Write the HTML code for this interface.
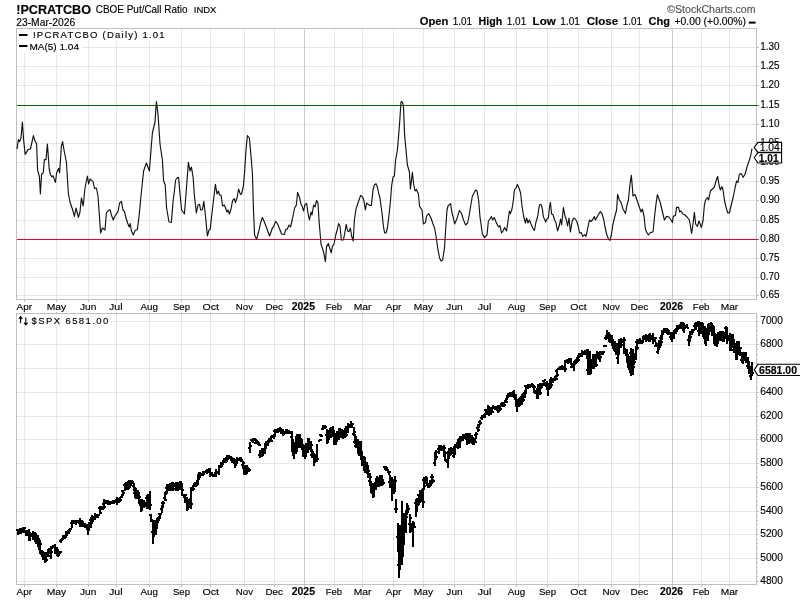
<!DOCTYPE html>
<html><head><meta charset="utf-8"><title>chart</title>
<style>html,body{margin:0;padding:0;background:#fff;width:800px;height:600px;overflow:hidden}body{font-family:"Liberation Sans",sans-serif}</style></head>
<body>
<svg width="800" height="600" viewBox="0 0 800 600" style="position:absolute;left:0;top:0" font-family="Liberation Sans, sans-serif">
<rect width="800" height="600" fill="#fff"/>
<path d="M24.5 28.5V299.5M56.5 28.5V299.5M88.5 28.5V299.5M116.5 28.5V299.5M149.5 28.5V299.5M181.5 28.5V299.5M210.5 28.5V299.5M244.5 28.5V299.5M274.5 28.5V299.5M334.5 28.5V299.5M362.5 28.5V299.5M393.5 28.5V299.5M423.5 28.5V299.5M454.5 28.5V299.5M484.5 28.5V299.5M516.5 28.5V299.5M547.5 28.5V299.5M578.5 28.5V299.5M611.5 28.5V299.5M639.5 28.5V299.5M701.5 28.5V299.5M729.5 28.5V299.5M16.5 47.5H756.5M16.5 66.5H756.5M16.5 85.5H756.5M16.5 105.5H756.5M16.5 124.5H756.5M16.5 143.5H756.5M16.5 162.5H756.5M16.5 181.5H756.5M16.5 200.5H756.5M16.5 220.5H756.5M16.5 239.5H756.5M16.5 258.5H756.5M16.5 277.5H756.5M16.5 295.5H756.5" stroke="#000" stroke-opacity="0.095" stroke-width="1" fill="none"/>
<path d="M304.5 28.5V299.5M672.5 28.5V299.5" stroke="#000" stroke-opacity="0.2" stroke-width="1" fill="none"/>
<rect x="16.5" y="28.5" width="740.0" height="271.0" fill="none" stroke="#c0c0c0" stroke-width="1"/>
<path d="M757.0 47.5h2M757.0 66.5h2M757.0 85.5h2M757.0 105.5h2M757.0 124.5h2M757.0 143.5h2M757.0 162.5h2M757.0 181.5h2M757.0 200.5h2M757.0 220.5h2M757.0 239.5h2M757.0 258.5h2M757.0 277.5h2M757.0 295.5h2M24.5 300.0v2M24.5 312.0v1.5M56.5 300.0v2M56.5 312.0v1.5M88.5 300.0v2M88.5 312.0v1.5M116.5 300.0v2M116.5 312.0v1.5M149.5 300.0v2M149.5 312.0v1.5M181.5 300.0v2M181.5 312.0v1.5M210.5 300.0v2M210.5 312.0v1.5M244.5 300.0v2M244.5 312.0v1.5M274.5 300.0v2M274.5 312.0v1.5M304.5 300.0v2M304.5 312.0v1.5M334.5 300.0v2M334.5 312.0v1.5M362.5 300.0v2M362.5 312.0v1.5M393.5 300.0v2M393.5 312.0v1.5M423.5 300.0v2M423.5 312.0v1.5M454.5 300.0v2M454.5 312.0v1.5M484.5 300.0v2M484.5 312.0v1.5M516.5 300.0v2M516.5 312.0v1.5M547.5 300.0v2M547.5 312.0v1.5M578.5 300.0v2M578.5 312.0v1.5M611.5 300.0v2M611.5 312.0v1.5M639.5 300.0v2M639.5 312.0v1.5M672.5 300.0v2M672.5 312.0v1.5M701.5 300.0v2M701.5 312.0v1.5M729.5 300.0v2M729.5 312.0v1.5" stroke="#c0c0c0" stroke-width="1" fill="none"/>
<path d="M24.5 313.5V584.5M56.5 313.5V584.5M88.5 313.5V584.5M116.5 313.5V584.5M149.5 313.5V584.5M181.5 313.5V584.5M210.5 313.5V584.5M244.5 313.5V584.5M274.5 313.5V584.5M334.5 313.5V584.5M362.5 313.5V584.5M393.5 313.5V584.5M423.5 313.5V584.5M454.5 313.5V584.5M484.5 313.5V584.5M516.5 313.5V584.5M547.5 313.5V584.5M578.5 313.5V584.5M611.5 313.5V584.5M639.5 313.5V584.5M701.5 313.5V584.5M729.5 313.5V584.5M16.5 321.5H756.5M16.5 344.5H756.5M16.5 368.5H756.5M16.5 392.5H756.5M16.5 416.5H756.5M16.5 439.5H756.5M16.5 463.5H756.5M16.5 487.5H756.5M16.5 511.5H756.5M16.5 534.5H756.5M16.5 558.5H756.5M16.5 581.5H756.5" stroke="#000" stroke-opacity="0.095" stroke-width="1" fill="none"/>
<path d="M304.5 313.5V584.5M672.5 313.5V584.5" stroke="#000" stroke-opacity="0.2" stroke-width="1" fill="none"/>
<rect x="16.5" y="313.5" width="740.0" height="271.0" fill="none" stroke="#c0c0c0" stroke-width="1"/>
<path d="M757.0 576.5h1M757.0 572.5h1M757.0 567.5h1M757.0 562.5h1M757.0 553.5h1M757.0 548.5h1M757.0 543.5h1M757.0 539.5h1M757.0 529.5h1M757.0 524.5h1M757.0 520.5h1M757.0 515.5h1M757.0 505.5h1M757.0 501.5h1M757.0 496.5h1M757.0 491.5h1M757.0 482.5h1M757.0 477.5h1M757.0 472.5h1M757.0 468.5h1M757.0 458.5h1M757.0 453.5h1M757.0 449.5h1M757.0 444.5h1M757.0 434.5h1M757.0 430.5h1M757.0 425.5h1M757.0 420.5h1M757.0 411.5h1M757.0 406.5h1M757.0 401.5h1M757.0 397.5h1M757.0 387.5h1M757.0 382.5h1M757.0 378.5h1M757.0 373.5h1M757.0 363.5h1M757.0 359.5h1M757.0 354.5h1M757.0 349.5h1M757.0 340.5h1M757.0 335.5h1M757.0 330.5h1M757.0 326.5h1M757.0 316.5h1M757.0 321.5h2M757.0 344.5h2M757.0 368.5h2M757.0 392.5h2M757.0 416.5h2M757.0 439.5h2M757.0 463.5h2M757.0 487.5h2M757.0 511.5h2M757.0 534.5h2M757.0 558.5h2M757.0 581.5h2M24.5 585.0v2M24.5 597.0v1.5M56.5 585.0v2M56.5 597.0v1.5M88.5 585.0v2M88.5 597.0v1.5M116.5 585.0v2M116.5 597.0v1.5M149.5 585.0v2M149.5 597.0v1.5M181.5 585.0v2M181.5 597.0v1.5M210.5 585.0v2M210.5 597.0v1.5M244.5 585.0v2M244.5 597.0v1.5M274.5 585.0v2M274.5 597.0v1.5M304.5 585.0v2M304.5 597.0v1.5M334.5 585.0v2M334.5 597.0v1.5M362.5 585.0v2M362.5 597.0v1.5M393.5 585.0v2M393.5 597.0v1.5M423.5 585.0v2M423.5 597.0v1.5M454.5 585.0v2M454.5 597.0v1.5M484.5 585.0v2M484.5 597.0v1.5M516.5 585.0v2M516.5 597.0v1.5M547.5 585.0v2M547.5 597.0v1.5M578.5 585.0v2M578.5 597.0v1.5M611.5 585.0v2M611.5 597.0v1.5M639.5 585.0v2M639.5 597.0v1.5M672.5 585.0v2M672.5 597.0v1.5M701.5 585.0v2M701.5 597.0v1.5M729.5 585.0v2M729.5 597.0v1.5" stroke="#c0c0c0" stroke-width="1" fill="none"/>
<path d="M17.0 105.5H758.5" stroke="#006400" stroke-width="1"/>
<path d="M17.0 239.5H758.5" stroke="#da0a34" stroke-width="1"/>
<path d="M17.0 149.0 L18.4 139.6 L19.6 141.6 L21.0 138.0 L22.4 122.0 L23.6 140.0 L25.2 154.4 L28.0 149.6 L30.4 149.0 L33.4 135.6 L35.0 141.0 L36.6 143.6 L37.6 170.0 L39.4 177.0 L40.4 194.0 L41.6 174.0 L43.2 173.0 L44.4 159.6 L46.0 159.6 L47.4 144.0 L49.2 169.0 L50.6 175.0 L52.0 177.0 L53.0 175.6 L55.4 182.4 L56.6 173.0 L58.6 168.4 L59.6 173.0 L61.4 146.0 L62.6 141.6 L64.0 150.0 L66.4 162.0 L68.4 194.0 L70.0 202.0 L72.4 209.0 L74.4 216.4 L76.0 208.0 L78.4 217.4 L80.0 212.0 L81.4 198.0 L83.2 206.0 L85.0 188.0 L87.4 176.0 L88.6 184.0 L90.0 179.0 L93.0 181.6 L94.6 188.4 L96.4 188.0 L98.0 196.0 L99.4 216.0 L100.6 233.0 L102.4 228.0 L105.0 230.0 L106.4 213.0 L108.0 211.0 L110.0 209.6 L111.4 215.0 L113.2 220.0 L115.0 216.0 L118.0 211.6 L119.6 203.0 L121.4 201.4 L123.0 210.0 L124.4 211.4 L126.0 218.0 L128.0 224.0 L129.2 227.0 L130.2 223.6 L131.4 231.0 L133.4 235.0 L135.0 230.6 L137.4 229.4 L139.0 217.0 L141.0 196.0 L143.6 171.0 L146.4 163.0 L149.4 171.0 L151.0 150.0 L152.4 133.0 L155.0 122.0 L156.4 101.6 L158.0 114.0 L160.0 144.0 L162.4 160.0 L162.4 160.0 L163.6 181.0 L165.2 185.0 L166.6 208.0 L169.0 222.0 L171.4 222.4 L173.0 202.0 L174.4 191.0 L175.6 180.0 L177.6 177.4 L178.6 177.6 L180.0 194.0 L181.6 210.0 L184.4 214.0 L186.0 194.0 L188.4 162.4 L190.0 171.0 L191.4 167.0 L193.2 178.0 L194.4 196.0 L196.4 213.0 L198.0 205.0 L199.6 204.4 L200.6 210.0 L202.4 209.6 L203.8 201.4 L205.4 215.0 L207.4 236.0 L209.0 230.0 L210.2 229.4 L212.0 213.0 L214.0 196.0 L215.4 184.4 L217.0 194.0 L218.4 191.0 L219.6 195.0 L221.0 195.0 L222.6 206.0 L224.4 205.0 L227.0 212.0 L228.0 210.0 L229.4 214.0 L231.0 209.0 L232.6 200.4 L234.4 198.6 L235.4 202.6 L237.0 198.0 L238.6 189.0 L240.4 194.4 L241.6 194.0 L243.4 186.0 L244.6 172.0 L246.0 150.0 L247.4 135.6 L249.4 138.0 L251.0 156.0 L252.4 173.0 L253.4 208.0 L254.6 235.0 L256.6 239.4 L258.6 232.0 L260.6 223.0 L262.4 217.4 L264.4 222.0 L267.0 229.0 L269.6 236.0 L272.4 228.0 L273.6 227.0 L275.6 221.4 L277.6 224.0 L279.6 229.0 L281.6 234.0 L284.4 234.4 L285.6 229.6 L287.4 229.0 L289.0 225.0 L290.6 227.0 L292.4 219.0 L294.6 208.0 L296.4 205.0 L297.6 192.4 L299.4 197.0 L301.0 204.0 L302.4 207.0 L303.6 211.0 L305.0 204.4 L306.6 203.4 L308.0 213.0 L309.4 220.0 L311.0 212.0 L312.0 215.0 L313.6 205.0 L315.0 207.0 L316.6 200.4 L318.0 203.0 L319.0 220.0 L320.0 232.0 L321.0 244.0 L323.6 252.0 L325.4 261.6 L326.6 246.4 L328.4 243.6 L331.2 253.0 L332.4 246.4 L334.0 244.0 L336.0 234.0 L337.2 230.0 L338.6 223.6 L340.0 226.0 L341.4 240.0 L343.4 240.0 L344.6 234.0 L346.2 224.4 L347.6 231.0 L349.0 231.6 L350.4 228.0 L351.6 236.0 L353.2 241.0 L354.4 220.0 L356.0 209.0 L358.0 203.0 L360.6 195.4 L362.6 197.0 L364.0 201.0 L365.4 210.0 L366.6 203.0 L369.4 205.4 L371.4 205.4 L373.0 190.0 L374.4 185.0 L376.0 183.6 L377.4 187.0 L378.6 193.0 L380.0 198.0 L382.0 213.0 L383.4 226.0 L384.6 233.0 L386.0 233.0 L387.4 228.0 L389.0 215.0 L390.4 202.0 L391.6 186.0 L393.0 177.0 L394.4 176.0 L395.6 160.0 L397.4 150.0 L399.4 126.0 L401.0 102.0 L402.0 101.6 L403.4 105.0 L404.6 135.0 L407.4 165.0 L409.4 172.0 L410.4 189.0 L412.4 172.4 L413.6 184.0 L415.0 191.0 L416.4 189.4 L418.4 194.0 L419.6 206.4 L422.0 210.0 L423.4 224.0 L425.4 222.6 L426.6 216.0 L428.6 213.6 L431.0 218.0 L433.0 224.0 L434.6 228.0 L436.0 236.0 L438.0 250.0 L439.6 258.0 L441.0 261.0 L442.6 260.0 L444.4 249.0 L445.6 230.0 L447.0 210.0 L448.0 206.0 L450.6 203.6 L452.0 213.0 L453.4 218.0 L454.6 224.0 L456.6 219.6 L459.4 210.6 L461.4 213.0 L463.4 219.6 L465.6 225.0 L467.6 223.0 L469.4 214.0 L471.0 204.0 L472.4 196.0 L474.0 193.0 L475.6 190.0 L477.0 191.0 L478.6 200.0 L480.0 217.0 L481.0 224.0 L482.4 234.0 L484.4 237.6 L487.0 235.0 L488.4 221.0 L490.0 219.0 L491.4 216.6 L492.6 220.0 L494.4 217.6 L495.6 221.0 L497.4 225.0 L498.6 227.0 L500.0 225.6 L501.6 233.0 L503.0 231.0 L504.6 227.6 L506.6 231.0 L508.0 221.0 L509.4 211.0 L510.4 213.6 L512.0 209.0 L513.4 200.0 L514.4 190.0 L516.0 188.0 L517.4 184.4 L519.0 188.0 L520.6 193.0 L522.0 206.0 L523.6 216.0 L525.4 223.0 L526.6 218.0 L528.0 223.0 L529.4 220.0 L531.0 224.0 L533.0 228.6 L534.4 230.4 L536.0 222.0 L537.6 217.0 L539.4 205.0 L541.0 204.4 L542.4 209.0 L543.4 217.0 L545.0 220.0 L545.6 222.0 L547.0 219.0 L548.4 217.6 L549.4 208.0 L550.4 202.4 L551.6 214.0 L553.0 214.6 L554.6 220.0 L556.0 223.0 L557.6 231.0 L559.4 225.0 L560.6 219.0 L561.6 225.0 L563.4 207.6 L565.0 216.0 L566.4 220.0 L567.6 226.0 L569.0 218.0 L570.4 232.0 L572.0 222.0 L573.6 218.0 L575.6 219.4 L577.0 222.0 L578.4 227.0 L579.6 233.0 L581.4 232.6 L582.6 236.4 L584.6 234.6 L586.0 236.4 L587.6 229.0 L589.4 220.0 L591.0 221.6 L592.4 220.0 L594.4 216.6 L595.4 220.0 L597.4 216.6 L599.0 213.6 L600.4 211.6 L602.0 213.6 L603.6 219.0 L605.0 227.0 L606.6 234.0 L608.6 239.4 L610.0 240.4 L611.4 235.0 L612.6 226.0 L614.4 218.0 L616.6 210.0 L617.6 194.4 L619.4 200.0 L621.0 202.4 L623.0 209.0 L625.4 213.6 L627.0 205.0 L628.4 200.0 L630.0 184.0 L631.4 175.4 L633.0 196.0 L635.0 194.4 L636.6 199.0 L638.6 205.0 L640.0 209.0 L641.0 212.0 L642.4 209.0 L644.0 216.0 L645.4 229.0 L646.6 232.0 L648.4 235.0 L650.6 232.4 L653.0 232.0 L654.4 218.0 L656.0 204.0 L657.4 194.6 L659.0 199.0 L660.4 203.0 L662.0 210.0 L664.4 220.0 L666.6 216.4 L669.0 217.0 L671.0 220.0 L672.4 222.4 L673.4 216.0 L675.4 215.6 L676.6 207.4 L678.6 207.4 L679.6 212.0 L681.0 211.0 L683.0 214.0 L685.0 215.0 L687.0 217.0 L689.4 220.0 L690.6 227.0 L691.6 233.4 L693.0 224.0 L694.4 212.4 L695.6 224.0 L697.4 226.4 L699.0 221.0 L701.4 227.4 L703.0 221.0 L704.4 205.0 L705.6 200.0 L707.6 197.6 L708.6 200.0 L710.4 191.0 L712.4 189.0 L714.4 187.0 L716.0 181.0 L717.6 176.4 L719.0 185.0 L720.4 190.0 L722.0 186.6 L723.0 190.0 L724.6 201.0 L726.0 207.0 L727.6 212.6 L729.4 213.0 L731.0 206.0 L733.0 198.0 L735.0 188.0 L736.6 181.0 L738.0 182.4 L739.4 174.0 L741.4 173.6 L743.0 177.4 L745.0 174.4 L747.0 167.0 L749.4 160.0 L750.6 156.0 L752.0 148.6" stroke="#111" stroke-width="1.15" fill="none" stroke-linejoin="round"/>
<path d="M18.34 529.0V534.5M19.82 528.2V534.3M21.30 528.8V534.4M22.77 527.2V533.2M24.25 527.2V530.5M25.73 530.0V536.2M27.20 530.3V535.7M28.68 528.8V541.3M30.16 532.3V540.8M31.63 533.4V536.2M33.11 531.2V539.5M34.59 531.7V541.5M36.06 533.1V543.8M37.54 535.3V546.3M39.02 538.0V549.8M40.49 541.9V554.0M41.97 549.7V557.4M43.44 551.4V560.4M44.92 552.1V563.2M46.40 552.4V562.1M47.87 548.7V557.2M49.35 547.5V552.1M50.83 547.4V559.3M52.30 545.9V548.9M53.78 545.2V548.1M55.26 543.7V554.1M56.73 546.6V556.4M58.21 548.9V557.2M59.69 551.4V554.2M61.16 539.0V542.9M62.64 536.4V539.5M64.12 535.4V539.1M65.59 532.0V537.7M67.07 531.2V536.1M68.55 530.4V534.1M70.02 527.9V530.9M71.50 519.6V528.4M72.97 519.6V524.2M74.45 520.1V523.4M75.93 520.1V524.8M77.40 519.6V522.4M78.88 520.8V523.7M80.36 518.2V527.0M81.83 519.6V527.2M83.31 521.0V527.2M84.79 522.6V526.9M86.26 523.7V527.8M87.74 524.2V534.8M89.22 522.4V531.2M90.69 516.6V527.9M92.17 514.7V523.2M93.65 515.9V520.3M95.12 513.3V519.8M96.60 514.8V517.3M98.08 513.9V518.0M99.55 505.7V514.4M101.03 506.0V508.9M102.50 505.6V510.1M103.98 499.4V508.4M105.46 500.8V504.0M106.93 499.8V503.4M108.41 501.0V504.5M109.89 502.3V504.8M111.36 501.4V503.9M112.84 500.6V504.3M114.32 500.2V503.5M115.79 499.3V503.4M117.27 497.0V505.0M118.75 497.9V503.1M120.22 497.3V500.3M121.70 494.3V498.1M123.18 489.5V494.8M124.65 483.2V491.1M126.13 481.5V490.2M127.61 480.6V489.6M129.08 479.5V488.2M130.56 480.2V486.0M132.03 479.8V483.6M133.51 483.1V491.0M134.99 486.8V498.3M136.46 489.8V498.6M137.94 489.7V494.9M139.42 494.4V504.4M140.89 498.9V511.8M142.37 499.2V510.6M143.85 499.5V508.2M145.32 502.1V506.4M146.80 494.8V509.3M148.28 494.4V508.6M149.75 491.0V509.8M151.23 513.5V522.1M152.71 521.0V544.0M154.18 520.3V537.1M155.66 519.8V535.3M157.13 517.9V529.4M158.61 516.2V520.5M160.09 512.5V516.7M161.56 505.1V513.0M163.04 500.6V505.6M164.52 492.0V501.1M165.99 490.6V495.1M167.47 484.4V492.7M168.95 483.9V491.0M170.42 482.9V491.0M171.90 482.4V491.0M173.38 481.9V490.6M174.85 483.1V487.1M176.33 482.4V490.5M177.81 482.3V490.6M179.28 481.5V489.8M180.76 480.6V489.9M182.24 483.0V496.0M183.71 494.2V497.9M185.19 493.7V502.6M186.66 497.2V510.5M188.14 498.5V510.2M189.62 497.6V507.7M191.09 486.5V509.3M192.57 486.5V490.8M194.05 482.7V487.0M195.52 482.2V486.7M197.00 482.0V486.1M198.48 474.2V482.5M199.95 471.5V477.9M201.43 473.2V475.7M202.91 471.1V476.1M204.38 471.1V473.6M205.86 470.3V472.8M207.34 469.2V473.8M208.81 467.8V473.1M210.29 468.4V477.0M211.77 472.1V476.0M213.24 474.2V476.7M214.72 474.2V477.3M216.19 469.1V476.6M217.67 471.6V474.1M219.15 464.9V474.8M220.62 463.5V468.1M222.10 461.6V467.3M223.58 459.1V463.4M225.05 458.1V463.0M226.53 455.0V462.1M228.01 457.0V459.5M229.48 454.9V458.5M230.96 455.8V459.4M232.44 456.5V462.5M233.91 458.1V462.3M235.39 458.6V468.2M236.87 457.2V464.1M238.34 457.9V461.1M239.82 457.0V461.2M241.30 458.3V462.3M242.77 461.3V469.0M244.25 464.7V475.0M245.72 465.1V474.8M247.20 464.5V474.2M248.68 467.6V472.0M250.15 441.9V452.7M251.63 439.8V442.4M253.11 438.1V443.1M254.58 438.2V440.7M256.06 438.9V444.0M257.54 440.7V443.6M259.01 443.1V446.2M260.49 449.5V457.5M261.97 448.3V457.3M263.44 448.0V456.1M264.92 444.8V454.1M266.40 441.4V449.2M267.87 440.5V445.6M269.35 438.4V442.7M270.83 437.2V442.1M272.30 435.4V438.0M273.78 433.9V438.9M275.25 429.4V435.5M276.73 429.2V433.2M278.21 427.5V431.6M279.68 427.3V432.1M281.16 428.4V434.3M282.64 429.1V436.4M284.11 431.6V434.8M285.59 428.5V434.1M287.07 428.7V433.5M288.54 431.2V434.1M290.02 430.6V433.1M291.50 431.2V452.1M292.97 438.8V455.5M294.45 441.7V458.5M295.93 436.1V454.0M297.40 434.0V452.0M298.88 433.8V447.6M300.36 434.4V444.8M301.83 438.7V450.0M303.31 444.3V456.5M304.78 445.3V459.1M306.26 442.5V455.2M307.74 437.5V453.3M309.21 437.8V449.8M310.69 440.8V452.4M312.17 448.5V458.0M313.64 452.8V465.7M315.12 454.6V462.9M316.60 444.2V462.2M319.55 438.6V441.1M321.03 434.2V436.7M322.50 426.2V430.0M323.98 425.7V428.2M325.46 424.8V429.0M326.93 429.2V444.2M328.41 430.0V440.7M329.89 429.3V438.4M331.36 427.0V437.7M332.84 425.6V436.9M334.31 431.5V445.0M335.79 432.6V444.9M337.27 430.5V441.5M338.74 428.3V439.8M340.22 427.9V438.1M341.70 428.5V437.5M343.17 429.7V438.7M344.65 429.4V438.4M346.13 425.9V437.1M347.60 423.4V432.6M349.08 425.0V427.8M350.56 421.2V425.7M352.03 422.5V427.9M353.51 426.8V435.9M354.99 433.5V443.5M356.46 436.3V448.4M357.94 439.1V453.3M359.42 440.7V456.3M360.89 440.8V460.0M362.37 450.9V466.3M363.84 455.5V470.6M365.32 456.8V472.5M366.80 462.2V474.0M368.27 465.7V478.4M369.75 472.8V486.4M371.23 480.6V492.9M372.70 482.6V497.6M374.18 482.8V497.3M375.66 478.1V490.1M377.13 475.6V486.9M378.61 477.5V487.1M380.09 475.0V485.6M381.56 474.8V486.1M383.04 479.4V483.3M384.52 466.1V469.9M385.99 465.5V470.2M387.47 466.8V471.3M388.95 470.8V475.1M390.42 474.6V488.0M422.90 487.6V493.5M424.38 476.9V488.1M425.86 475.6V484.4M427.33 477.4V485.5M428.81 483.3V487.7M430.29 480.4V486.7M431.76 474.3V483.5M433.24 478.5V482.8M434.72 451.9V465.5M436.19 449.8V459.8M437.67 450.9V453.4M439.15 445.3V454.1M440.62 445.0V450.9M442.10 445.6V449.7M443.58 445.0V456.1M445.05 450.8V460.7M446.53 459.0V463.2M448.01 450.9V467.8M449.48 447.5V458.9M450.96 446.9V455.3M452.43 448.3V454.4M453.91 446.2V457.6M455.39 444.4V454.9M456.86 441.6V445.9M458.34 438.7V449.1M459.82 437.2V447.7M461.29 435.5V440.1M462.77 435.8V440.5M464.25 434.3V438.5M465.72 432.5V440.0M467.20 432.5V444.5M468.68 433.1V443.9M470.15 433.2V442.8M471.63 434.5V443.5M473.11 436.7V445.4M474.58 438.4V443.2M476.06 431.7V438.9M477.54 425.9V432.2M479.01 423.6V428.0M480.49 419.8V425.2M481.96 415.4V420.3M483.44 414.9V418.1M484.92 413.2V417.7M486.39 408.7V414.5M487.87 405.2V414.7M489.35 405.8V415.9M490.82 406.5V414.7M492.30 407.1V412.9M493.78 405.5V408.6M495.25 407.0V409.6M496.73 406.0V411.0M498.21 404.5V413.2M499.68 405.2V410.8M501.16 403.3V406.6M502.64 402.0V406.8M504.11 401.8V406.6M505.59 399.1V402.9M507.07 395.2V399.6M508.54 392.5V396.9M510.02 391.8V396.6M511.49 392.4V396.2M512.97 391.4V396.5M514.45 389.7V398.4M515.92 393.6V406.0M517.40 398.8V411.8M518.88 398.7V407.4M520.35 397.2V405.7M521.83 394.9V404.7M523.31 392.5V402.2M524.78 389.5V398.0M526.26 384.6V393.6M527.74 383.5V389.2M529.21 383.5V386.0M530.69 384.4V387.0M532.17 383.4V385.9M533.64 385.3V390.5M535.12 390.0V394.0M536.60 387.6V399.2M538.07 383.5V398.7M539.55 383.2V394.7M541.02 384.9V389.0M542.50 383.0V385.5M543.98 379.8V383.5M545.45 382.0V385.7M546.93 381.4V390.3M548.41 382.9V395.5M549.88 380.1V388.9M551.36 376.8V386.3M552.84 377.9V383.3M554.31 377.9V380.9M555.79 375.3V380.0M557.27 369.0V377.2M558.74 367.8V370.3M560.22 365.5V369.4M561.70 365.4V369.2M563.17 366.6V370.0M564.65 361.8V372.3M566.13 359.9V363.3M567.60 358.9V363.8M569.08 357.9V362.8M570.55 358.1V365.3M572.03 362.6V368.2M573.51 361.6V371.0M574.98 360.3V365.1M576.46 359.4V363.7M577.94 355.6V362.1M579.41 353.1V358.0M580.89 353.0V357.4M582.37 350.0V356.8M583.84 351.6V354.6M585.32 349.7V353.8M586.80 349.3V358.9M588.27 349.3V374.5M589.75 351.0V374.5M591.23 358.6V373.7M592.70 353.6V369.2M594.18 354.3V369.1M595.66 354.6V366.9M597.13 351.2V359.4M598.61 352.6V358.3M600.08 350.5V362.2M601.56 352.5V355.0M603.04 351.3V353.8M604.51 344.9V347.4M605.99 335.1V340.0M607.47 330.3V338.5M608.94 332.4V342.1M610.42 334.6V343.0M611.90 335.4V345.1M613.37 340.3V348.7M614.85 341.4V351.7M616.33 342.8V354.7M617.80 345.0V363.5M619.28 338.5V353.2M620.76 337.7V348.1M622.23 339.3V342.4M623.71 337.1V353.5M625.19 348.1V354.0M626.66 349.0V363.0M628.14 354.0V367.6M629.61 355.6V372.6M631.09 348.1V376.3M632.57 348.9V375.1M634.04 352.9V365.4M635.52 346.0V359.6M637.00 340.1V349.7M638.47 338.5V344.4M639.95 338.4V343.8M641.43 340.3V343.9M642.90 337.2V343.2M644.38 335.2V340.0M645.86 333.6V341.8M647.33 335.3V341.4M648.81 334.2V342.2M650.29 332.5V341.7M651.76 335.4V338.0M653.24 332.5V343.7M654.72 337.6V342.4M656.19 341.9V347.4M657.67 343.0V353.9M659.14 339.5V348.7M660.62 335.8V345.5M662.10 330.1V339.9M663.57 328.2V333.1M665.05 328.9V331.9M666.53 327.5V332.0M668.00 329.0V334.3M669.48 332.1V334.7M670.96 332.0V340.2M672.43 332.1V341.6M673.91 329.8V338.6M675.39 329.3V333.8M676.86 325.0V331.5M678.34 324.5V329.9M679.82 325.0V328.5M681.29 322.0V329.0M682.77 322.1V330.9M684.25 322.9V333.4M685.72 324.8V328.2M687.20 325.1V328.2M688.67 335.0V346.3M690.15 330.8V342.2M691.63 329.4V334.6M693.10 329.9V332.6M694.58 324.8V330.4M696.06 322.3V327.9M697.53 320.9V326.0M699.01 321.3V336.2M700.49 321.9V334.3M701.96 322.0V334.4M703.44 322.9V336.9M704.92 326.2V343.7M706.39 328.1V346.3M707.87 323.9V341.2M709.35 322.6V334.6M710.82 322.1V330.6M712.30 323.0V335.8M713.78 325.8V343.6M715.25 332.8V346.3M716.73 333.8V346.7M718.20 332.4V342.1M719.68 331.4V341.1M721.16 331.0V341.4M722.63 331.1V342.2M724.11 332.0V342.0M725.59 325.8V338.8M727.06 326.8V343.6M728.54 334.8V340.3M730.02 333.0V350.6M731.49 333.6V350.5M732.97 334.4V348.1M734.45 338.6V353.3M735.92 343.0V359.8M737.40 341.4V359.9M738.88 341.1V352.9M740.35 346.8V355.9M741.83 351.5V363.2M743.31 352.3V363.8M744.78 351.7V360.7M746.26 351.5V362.5M747.73 356.9V368.9M749.21 362.4V373.9M750.69 366.4V380.4M752.16 361.8V376.0M392.17 477.0V500.8M393.67 479.2V494.2M395.00 475.8V491.7M396.17 499.2V512.5M397.83 523.3V551.7M399.17 528.3V577.5M400.33 525.0V570.0M401.67 500.8V565.0M403.00 513.3V556.7M404.33 513.3V545.0M405.67 511.7V533.3M407.00 503.3V515.0M408.33 505.0V513.3M409.67 514.2V533.3M411.00 523.3V530.0M413.00 520.8V546.7M414.33 521.7V528.3M415.83 499.2V516.7M417.17 498.3V511.7M418.67 494.2V505.0M420.00 490.0V503.3M421.67 489.2V501.7M423.33 489.2V507.5" stroke="#000" stroke-width="2" fill="none" shape-rendering="crispEdges"/>
<path d="M16.34 530.1h2M18.34 531.9h2M17.82 530.9h2M19.82 529.4h2M19.30 530.1h2M21.30 530.5h2M20.77 530.6h2M22.77 529.8h2M22.25 528.4h2M24.25 528.1h2M23.73 531.7h2M25.73 533.5h2M25.20 531.3h2M27.20 531.3h2M26.68 532.5h2M28.68 536.7h2M28.16 536.1h2M30.16 535.4h2M29.63 535.2h2M31.63 534.3h2M31.11 535.8h2M33.11 535.5h2M32.59 539.2h2M34.59 538.2h2M34.06 536.9h2M36.06 542.1h2M35.54 537.9h2M37.54 540.2h2M37.02 546.0h2M39.02 541.0h2M38.49 547.9h2M40.49 544.1h2M39.97 554.0h2M41.97 555.6h2M41.44 554.8h2M43.44 557.2h2M42.92 558.4h2M44.92 558.2h2M44.40 557.0h2M46.40 559.6h2M45.87 555.6h2M47.87 552.8h2M47.35 550.3h2M49.35 551.4h2M48.83 556.1h2M50.83 551.6h2M50.30 546.7h2M52.30 546.6h2M51.78 546.4h2M53.78 547.4h2M53.26 545.9h2M55.26 548.5h2M54.73 551.8h2M56.73 554.1h2M56.21 554.9h2M58.21 555.2h2M57.69 553.7h2M59.69 552.1h2M59.16 541.2h2M61.16 540.3h2M60.64 539.0h2M62.64 538.4h2M62.12 536.1h2M64.12 538.3h2M63.59 536.0h2M65.59 534.4h2M65.07 532.1h2M67.07 532.1h2M66.55 531.0h2M68.55 531.4h2M68.02 529.6h2M70.02 528.7h2M69.50 522.5h2M71.50 523.1h2M70.97 523.5h2M72.97 521.8h2M72.45 521.2h2M74.45 522.5h2M73.93 522.5h2M75.93 521.3h2M75.40 521.7h2M77.40 521.4h2M76.88 522.3h2M78.88 522.8h2M78.36 521.5h2M80.36 520.9h2M79.83 525.3h2M81.83 525.1h2M81.31 522.9h2M83.31 524.2h2M82.79 524.0h2M84.79 525.3h2M84.26 527.2h2M86.26 527.1h2M85.74 528.5h2M87.74 527.5h2M87.22 525.1h2M89.22 525.0h2M88.69 519.9h2M90.69 523.2h2M90.17 521.3h2M92.17 520.9h2M91.65 516.8h2M93.65 518.6h2M93.12 517.6h2M95.12 516.4h2M94.60 516.9h2M96.60 515.9h2M96.08 515.0h2M98.08 514.9h2M97.55 507.9h2M99.55 512.5h2M99.03 508.4h2M101.03 507.8h2M100.50 509.4h2M102.50 508.4h2M101.98 504.1h2M103.98 506.7h2M103.46 501.8h2M105.46 501.9h2M104.93 501.4h2M106.93 500.7h2M106.41 502.9h2M108.41 503.7h2M107.89 503.6h2M109.89 502.8h2M109.36 502.1h2M111.36 502.6h2M110.84 502.5h2M112.84 502.6h2M112.32 501.3h2M114.32 501.4h2M113.79 502.1h2M115.79 502.5h2M115.27 500.7h2M117.27 501.7h2M116.75 500.4h2M118.75 500.7h2M118.22 499.6h2M120.22 499.7h2M119.70 497.1h2M121.70 495.2h2M121.18 490.6h2M123.18 492.8h2M122.65 485.2h2M124.65 488.3h2M124.13 486.9h2M126.13 483.7h2M125.61 487.5h2M127.61 488.1h2M127.08 482.2h2M129.08 486.6h2M128.56 484.4h2M130.56 481.7h2M130.03 481.2h2M132.03 482.3h2M131.51 486.1h2M133.51 487.7h2M132.99 492.7h2M134.99 489.1h2M134.46 497.2h2M136.46 496.0h2M135.94 490.7h2M137.94 493.4h2M137.42 497.8h2M139.42 496.8h2M138.89 504.7h2M140.89 509.1h2M140.37 507.4h2M142.37 503.0h2M141.85 501.7h2M143.85 506.4h2M143.32 504.8h2M145.32 504.0h2M144.80 497.7h2M146.80 506.5h2M146.28 502.8h2M148.28 504.5h2M147.75 494.9h2M149.75 505.1h2M149.23 515.2h2M151.23 520.0h2M150.71 531.7h2M152.71 529.9h2M152.18 529.3h2M154.18 533.7h2M153.66 525.0h2M155.66 523.5h2M155.13 523.9h2M157.13 521.6h2M156.61 517.7h2M158.61 517.7h2M158.09 513.6h2M160.09 514.1h2M159.56 509.3h2M161.56 507.3h2M161.04 502.9h2M163.04 503.1h2M162.52 497.8h2M164.52 499.6h2M163.99 493.3h2M165.99 492.5h2M165.47 487.6h2M167.47 485.9h2M166.95 486.3h2M168.95 485.8h2M168.42 484.6h2M170.42 488.9h2M169.90 488.9h2M171.90 487.7h2M171.38 484.9h2M173.38 484.6h2M172.85 484.4h2M174.85 486.4h2M174.33 489.1h2M176.33 486.7h2M175.81 485.0h2M177.81 489.2h2M177.28 484.5h2M179.28 484.8h2M178.76 482.0h2M180.76 484.5h2M180.24 489.3h2M182.24 489.5h2M181.71 495.0h2M183.71 495.8h2M183.19 495.3h2M185.19 495.2h2M184.66 502.0h2M186.66 501.3h2M186.14 505.1h2M188.14 504.6h2M187.62 504.4h2M189.62 503.8h2M189.09 501.3h2M191.09 503.9h2M190.57 487.6h2M192.57 489.4h2M192.05 486.1h2M194.05 485.3h2M193.52 483.4h2M195.52 484.6h2M195.00 485.0h2M197.00 484.3h2M196.48 480.6h2M198.48 479.4h2M197.95 473.0h2M199.95 474.1h2M199.43 474.6h2M201.43 474.7h2M200.91 474.4h2M202.91 473.6h2M202.38 471.9h2M204.38 471.6h2M203.86 472.3h2M205.86 471.5h2M205.34 472.3h2M207.34 471.8h2M206.81 469.5h2M208.81 471.3h2M208.29 471.5h2M210.29 473.1h2M209.77 474.6h2M211.77 474.5h2M211.24 474.8h2M213.24 476.2h2M212.72 474.7h2M214.72 475.7h2M214.19 472.6h2M216.19 471.6h2M215.67 472.2h2M217.67 472.8h2M217.15 473.0h2M219.15 467.3h2M218.62 466.5h2M220.62 465.0h2M220.10 462.5h2M222.10 464.4h2M221.58 460.7h2M223.58 462.3h2M223.05 459.2h2M225.05 462.0h2M224.53 457.5h2M226.53 457.9h2M226.01 458.1h2M228.01 457.8h2M227.48 456.1h2M229.48 457.8h2M228.96 457.3h2M230.96 458.7h2M230.44 460.0h2M232.44 461.2h2M231.91 458.9h2M233.91 460.9h2M233.39 463.1h2M235.39 465.1h2M234.87 462.7h2M236.87 458.9h2M236.34 460.6h2M238.34 459.0h2M237.82 458.8h2M239.82 458.1h2M239.30 460.3h2M241.30 459.5h2M240.77 464.9h2M242.77 463.2h2M242.25 467.7h2M244.25 466.9h2M243.72 468.9h2M245.72 467.2h2M245.20 467.6h2M247.20 467.7h2M246.68 469.5h2M248.68 469.5h2M248.15 447.5h2M250.15 446.4h2M249.63 440.4h2M251.63 441.1h2M251.11 439.6h2M253.11 439.8h2M252.58 440.1h2M254.58 440.1h2M254.06 442.8h2M256.06 441.3h2M255.54 442.8h2M257.54 442.9h2M257.01 443.9h2M259.01 444.7h2M258.49 454.7h2M260.49 454.3h2M259.97 454.4h2M261.97 452.5h2M261.44 452.3h2M263.44 449.4h2M262.92 451.3h2M264.92 447.7h2M264.40 444.2h2M266.40 443.3h2M265.87 441.7h2M267.87 441.6h2M267.35 440.9h2M269.35 439.1h2M268.83 440.1h2M270.83 440.9h2M270.30 437.0h2M272.30 436.3h2M271.78 436.1h2M273.78 435.5h2M273.25 431.3h2M275.25 430.4h2M274.73 430.4h2M276.73 432.0h2M276.21 430.9h2M278.21 429.0h2M277.68 430.6h2M279.68 429.0h2M279.16 430.2h2M281.16 431.0h2M280.64 430.9h2M282.64 432.2h2M282.11 432.3h2M284.11 433.0h2M283.59 432.2h2M285.59 433.3h2M285.07 432.6h2M287.07 432.0h2M286.54 432.3h2M288.54 432.0h2M288.02 431.2h2M290.02 432.7h2M289.50 437.4h2M291.50 439.6h2M290.97 450.9h2M292.97 450.9h2M292.45 449.3h2M294.45 444.8h2M293.93 444.7h2M295.93 443.4h2M295.40 448.3h2M297.40 439.2h2M296.88 439.4h2M298.88 444.5h2M298.36 436.2h2M300.36 439.0h2M299.83 446.8h2M301.83 446.5h2M301.31 446.4h2M303.31 446.4h2M302.78 448.0h2M304.78 456.3h2M304.26 446.7h2M306.26 451.1h2M305.74 449.8h2M307.74 443.6h2M307.21 441.9h2M309.21 447.7h2M308.69 447.6h2M310.69 444.7h2M310.17 454.7h2M312.17 452.0h2M311.64 457.2h2M313.64 454.8h2M313.12 460.3h2M315.12 461.2h2M314.60 454.9h2M316.60 458.8h2M317.55 440.6h2M319.55 439.7h2M319.03 434.8h2M321.03 435.9h2M320.50 428.8h2M322.50 428.4h2M321.98 426.2h2M323.98 426.4h2M323.46 425.5h2M325.46 427.1h2M324.93 434.9h2M326.93 441.8h2M326.41 438.2h2M328.41 439.0h2M327.89 432.4h2M329.89 431.2h2M329.36 429.3h2M331.36 432.3h2M330.84 432.9h2M332.84 430.8h2M332.31 435.7h2M334.31 437.5h2M333.79 439.8h2M335.79 440.3h2M335.27 437.9h2M337.27 438.6h2M336.74 435.3h2M338.74 431.0h2M338.22 435.4h2M340.22 431.5h2M339.70 433.4h2M341.70 432.2h2M341.17 435.7h2M343.17 432.3h2M342.65 432.3h2M344.65 432.3h2M344.13 428.8h2M346.13 434.5h2M345.60 428.5h2M347.60 426.9h2M347.08 427.0h2M349.08 426.7h2M348.56 424.5h2M350.56 424.5h2M350.03 423.7h2M352.03 424.0h2M351.51 434.4h2M353.51 431.9h2M352.99 441.5h2M354.99 437.6h2M354.46 445.5h2M356.46 441.9h2M355.94 443.8h2M357.94 449.0h2M357.42 453.4h2M359.42 444.2h2M358.89 451.7h2M360.89 452.0h2M360.37 455.6h2M362.37 457.2h2M361.84 459.3h2M363.84 459.9h2M363.32 461.9h2M365.32 465.7h2M364.80 469.4h2M366.80 465.7h2M366.27 467.7h2M368.27 470.5h2M367.75 481.3h2M369.75 476.6h2M369.23 485.2h2M371.23 484.2h2M370.70 493.2h2M372.70 490.6h2M372.18 485.6h2M374.18 486.0h2M373.66 483.2h2M375.66 484.5h2M375.13 482.3h2M377.13 478.0h2M376.61 480.0h2M378.61 483.6h2M378.09 479.6h2M380.09 478.7h2M379.56 478.9h2M381.56 484.0h2M381.04 482.3h2M383.04 482.7h2M382.52 467.2h2M384.52 466.7h2M383.99 467.5h2M385.99 469.1h2M385.47 469.5h2M387.47 470.4h2M386.95 471.9h2M388.95 472.3h2M388.42 481.5h2M390.42 485.3h2M420.90 492.5h2M422.90 489.3h2M422.38 479.6h2M424.38 486.0h2M423.86 483.0h2M425.86 479.9h2M425.33 478.9h2M427.33 483.9h2M426.81 486.5h2M428.81 484.5h2M428.29 485.1h2M430.29 485.0h2M429.76 476.8h2M431.76 477.1h2M431.24 479.9h2M433.24 481.3h2M432.72 462.5h2M434.72 454.3h2M434.19 455.3h2M436.19 456.6h2M435.67 452.3h2M437.67 452.4h2M437.15 448.5h2M439.15 449.2h2M438.62 447.7h2M440.62 447.7h2M440.10 448.4h2M442.10 448.4h2M441.58 450.2h2M443.58 448.1h2M443.05 455.6h2M445.05 453.0h2M444.53 461.1h2M446.53 459.8h2M446.01 460.9h2M448.01 454.4h2M447.48 455.1h2M449.48 455.4h2M448.96 451.2h2M450.96 448.5h2M450.43 449.8h2M452.43 452.9h2M451.91 455.8h2M453.91 453.7h2M453.39 452.0h2M455.39 447.4h2M454.86 445.0h2M456.86 442.8h2M456.34 446.0h2M458.34 447.0h2M457.82 439.3h2M459.82 441.4h2M459.29 437.1h2M461.29 438.8h2M460.77 437.2h2M462.77 437.4h2M462.25 435.4h2M464.25 437.7h2M463.72 434.5h2M465.72 437.7h2M465.20 435.3h2M467.20 438.8h2M466.68 439.5h2M468.68 437.4h2M468.15 440.5h2M470.15 438.4h2M469.63 439.5h2M471.63 441.4h2M471.11 438.6h2M473.11 444.0h2M472.58 440.0h2M474.58 442.4h2M474.06 435.0h2M476.06 433.7h2M475.54 427.9h2M477.54 429.7h2M477.01 425.2h2M479.01 424.3h2M478.49 422.2h2M480.49 422.5h2M479.96 418.4h2M481.96 416.2h2M481.44 415.9h2M483.44 416.7h2M482.92 415.4h2M484.92 414.3h2M484.39 409.9h2M486.39 412.1h2M485.87 412.5h2M487.87 411.9h2M487.35 410.2h2M489.35 409.2h2M488.82 407.8h2M490.82 411.4h2M490.30 409.8h2M492.30 411.8h2M491.78 406.1h2M493.78 407.1h2M493.25 407.4h2M495.25 408.4h2M494.73 408.9h2M496.73 408.5h2M496.21 409.7h2M498.21 410.8h2M497.68 409.6h2M499.68 409.1h2M499.16 405.5h2M501.16 404.9h2M500.64 403.1h2M502.64 403.5h2M502.11 404.8h2M504.11 405.3h2M503.59 400.8h2M505.59 401.7h2M505.07 398.8h2M507.07 396.5h2M506.54 393.9h2M508.54 395.5h2M508.02 393.6h2M510.02 395.5h2M509.49 394.7h2M511.49 394.8h2M510.97 393.8h2M512.97 395.1h2M512.45 395.3h2M514.45 396.2h2M513.92 399.3h2M515.92 401.7h2M515.40 406.0h2M517.40 403.6h2M516.88 401.3h2M518.88 403.8h2M518.35 398.9h2M520.35 403.9h2M519.83 397.4h2M521.83 396.6h2M521.31 394.7h2M523.31 400.3h2M522.78 392.8h2M524.78 391.6h2M524.26 386.1h2M526.26 386.2h2M525.74 387.1h2M527.74 387.3h2M527.21 385.4h2M529.21 385.5h2M528.69 386.5h2M530.69 385.0h2M530.17 385.2h2M532.17 384.9h2M531.64 387.2h2M533.64 386.5h2M533.12 391.8h2M535.12 390.7h2M534.60 391.4h2M536.60 391.6h2M536.07 393.4h2M538.07 389.7h2M537.55 387.5h2M539.55 392.7h2M539.02 385.6h2M541.02 386.7h2M540.50 384.3h2M542.50 383.7h2M541.98 380.8h2M543.98 380.3h2M543.45 382.6h2M545.45 383.8h2M544.93 385.8h2M546.93 387.7h2M546.41 386.4h2M548.41 389.2h2M547.88 383.6h2M549.88 386.6h2M549.36 379.9h2M551.36 384.5h2M550.84 380.6h2M552.84 379.2h2M552.31 379.8h2M554.31 380.0h2M553.79 377.3h2M555.79 378.9h2M555.27 370.7h2M557.27 375.3h2M556.74 369.1h2M558.74 368.8h2M558.22 367.5h2M560.22 368.1h2M559.70 366.9h2M561.70 366.9h2M561.17 368.9h2M563.17 367.5h2M562.65 366.6h2M564.65 369.0h2M564.13 361.0h2M566.13 360.9h2M565.60 360.2h2M567.60 360.2h2M567.08 359.8h2M569.08 359.3h2M568.55 359.7h2M570.55 364.0h2M570.03 366.5h2M572.03 366.3h2M571.51 365.9h2M573.51 364.3h2M572.98 362.3h2M574.98 361.1h2M574.46 361.6h2M576.46 362.0h2M575.94 358.4h2M577.94 360.0h2M577.41 356.4h2M579.41 355.3h2M578.89 356.1h2M580.89 355.8h2M580.37 354.1h2M582.37 353.2h2M581.84 353.7h2M583.84 353.6h2M583.32 351.6h2M585.32 352.1h2M584.80 353.5h2M586.80 355.2h2M586.27 369.5h2M588.27 356.3h2M587.75 365.3h2M589.75 367.3h2M589.23 365.0h2M591.23 366.0h2M590.70 366.6h2M592.70 356.4h2M592.18 362.2h2M594.18 358.2h2M593.66 363.2h2M595.66 364.5h2M595.13 355.4h2M597.13 353.0h2M596.61 355.5h2M598.61 356.0h2M598.08 359.0h2M600.08 356.5h2M599.56 353.5h2M601.56 354.2h2M601.04 352.2h2M603.04 352.4h2M602.51 345.9h2M604.51 345.8h2M603.99 337.6h2M605.99 336.6h2M605.47 336.2h2M607.47 333.8h2M606.94 335.3h2M608.94 334.7h2M608.42 340.4h2M610.42 340.6h2M609.90 341.2h2M611.90 340.1h2M611.37 344.9h2M613.37 342.9h2M612.85 349.9h2M614.85 345.5h2M614.33 349.9h2M616.33 351.4h2M615.80 358.3h2M617.80 353.8h2M617.28 343.7h2M619.28 346.3h2M618.76 340.2h2M620.76 345.3h2M620.23 340.3h2M622.23 340.7h2M621.71 341.7h2M623.71 339.6h2M623.19 350.2h2M625.19 351.0h2M624.66 355.3h2M626.66 357.4h2M626.14 362.3h2M628.14 359.5h2M627.61 369.2h2M629.61 368.3h2M629.09 353.4h2M631.09 368.7h2M630.57 369.5h2M632.57 367.2h2M632.04 356.0h2M634.04 362.0h2M633.52 354.1h2M635.52 348.1h2M635.00 341.6h2M637.00 347.9h2M636.47 340.0h2M638.47 340.4h2M637.95 342.6h2M639.95 342.2h2M639.43 342.8h2M641.43 342.5h2M640.90 341.7h2M642.90 339.0h2M642.38 337.4h2M644.38 338.9h2M643.86 338.0h2M645.86 336.3h2M645.33 338.2h2M647.33 336.8h2M646.81 338.2h2M648.81 338.2h2M648.29 337.3h2M650.29 339.4h2M649.76 337.0h2M651.76 337.3h2M651.24 337.1h2M653.24 337.5h2M652.72 340.5h2M654.72 338.4h2M654.19 346.3h2M656.19 344.0h2M655.67 352.1h2M657.67 348.5h2M657.14 344.0h2M659.14 346.6h2M658.62 337.5h2M660.62 342.1h2M660.10 335.8h2M662.10 333.9h2M661.57 330.7h2M663.57 331.5h2M663.05 331.1h2M665.05 330.0h2M664.53 329.0h2M666.53 329.8h2M666.00 332.7h2M668.00 331.0h2M667.48 333.9h2M669.48 332.5h2M668.96 337.3h2M670.96 338.3h2M670.43 337.1h2M672.43 333.8h2M671.91 332.9h2M673.91 331.1h2M673.39 332.0h2M675.39 332.5h2M674.86 328.8h2M676.86 328.9h2M676.34 326.1h2M678.34 327.8h2M677.82 325.6h2M679.82 327.4h2M679.29 324.9h2M681.29 327.1h2M680.77 328.3h2M682.77 326.9h2M682.25 326.3h2M684.25 326.7h2M683.72 327.5h2M685.72 325.4h2M685.20 326.8h2M687.20 327.6h2M686.67 340.2h2M688.67 336.8h2M688.15 335.6h2M690.15 337.2h2M689.63 331.9h2M691.63 331.7h2M691.10 330.4h2M693.10 330.3h2M692.58 326.0h2M694.58 329.1h2M694.06 324.1h2M696.06 326.0h2M695.53 324.2h2M697.53 324.7h2M697.01 331.2h2M699.01 324.4h2M698.49 329.2h2M700.49 329.9h2M699.96 327.9h2M701.96 332.0h2M701.44 327.5h2M703.44 334.5h2M702.92 337.6h2M704.92 329.0h2M704.39 331.0h2M706.39 339.1h2M705.87 336.4h2M707.87 327.4h2M707.35 327.0h2M709.35 330.5h2M708.82 324.4h2M710.82 328.5h2M710.30 329.3h2M712.30 325.5h2M711.78 333.0h2M713.78 335.6h2M713.25 338.9h2M715.25 341.2h2M714.73 337.0h2M716.73 342.9h2M716.20 336.3h2M718.20 338.2h2M717.68 337.1h2M719.68 335.7h2M719.16 335.3h2M721.16 338.3h2M720.63 340.2h2M722.63 338.9h2M722.11 337.5h2M724.11 335.5h2M723.59 328.3h2M725.59 336.6h2M725.06 337.6h2M727.06 339.0h2M726.54 338.8h2M728.54 337.9h2M728.02 339.5h2M730.02 340.9h2M729.49 346.7h2M731.49 340.6h2M730.97 343.0h2M732.97 342.2h2M732.45 350.1h2M734.45 349.1h2M733.92 348.8h2M735.92 345.5h2M735.40 347.6h2M737.40 349.6h2M736.88 347.7h2M738.88 349.6h2M738.35 353.8h2M740.35 348.4h2M739.83 360.1h2M741.83 359.9h2M741.31 361.0h2M743.31 358.6h2M742.78 354.8h2M744.78 358.4h2M744.26 359.4h2M746.26 358.5h2M745.73 366.4h2M747.73 361.7h2M747.21 364.8h2M749.21 368.6h2M748.69 376.3h2M750.69 370.4h2M750.16 371.4h2M752.16 373.2h2M390.17 483.8h2M392.17 491.0h2M391.67 488.8h2M393.67 486.3h2M393.00 480.0h2M395.00 480.6h2M394.17 508.5h2M396.17 508.9h2M395.83 536.6h2M397.83 528.2h2M397.17 565.0h2M399.17 563.6h2M398.33 537.9h2M400.33 550.4h2M399.67 553.3h2M401.67 552.7h2M401.00 535.8h2M403.00 534.2h2M402.33 531.4h2M404.33 521.3h2M403.67 517.2h2M405.67 517.0h2M405.00 511.0h2M407.00 507.9h2M406.33 509.6h2M408.33 508.5h2M407.67 524.0h2M409.67 518.4h2M409.00 524.2h2M411.00 529.3h2M411.00 531.1h2M413.00 525.6h2M412.33 525.7h2M414.33 526.5h2M413.83 503.1h2M415.83 509.3h2M415.17 503.3h2M417.17 505.2h2M416.67 495.4h2M418.67 495.5h2M418.00 501.9h2M420.00 500.6h2M419.67 495.3h2M421.67 496.1h2M421.33 494.8h2M423.33 502.4h2" stroke="#000" stroke-width="2" fill="none" shape-rendering="crispEdges"/>
<defs><filter id="nf" x="0" y="0" width="100%" height="100%" filterUnits="userSpaceOnUse" color-interpolation-filters="sRGB"><feOffset dx="0" dy="0"/></filter></defs><g filter="url(#nf)">
<text x="16.50" y="309.80" font-size="9.5" font-weight="normal" fill="#000" stroke="#000" stroke-width="0.15" text-anchor="start" textLength="15.50" lengthAdjust="spacingAndGlyphs" >Apr</text>
<text x="46.75" y="309.80" font-size="9.5" font-weight="normal" fill="#000" stroke="#000" stroke-width="0.15" text-anchor="start" textLength="19.50" lengthAdjust="spacingAndGlyphs" >May</text>
<text x="80.00" y="309.80" font-size="9.5" font-weight="normal" fill="#000" stroke="#000" stroke-width="0.15" text-anchor="start" textLength="16.25" lengthAdjust="spacingAndGlyphs" >Jun</text>
<text x="109.00" y="309.80" font-size="9.5" font-weight="normal" fill="#000" stroke="#000" stroke-width="0.15" text-anchor="start" textLength="13.50" lengthAdjust="spacingAndGlyphs" >Jul</text>
<text x="140.50" y="309.80" font-size="9.5" font-weight="normal" fill="#000" stroke="#000" stroke-width="0.15" text-anchor="start" textLength="17.50" lengthAdjust="spacingAndGlyphs" >Aug</text>
<text x="173.00" y="309.80" font-size="9.5" font-weight="normal" fill="#000" stroke="#000" stroke-width="0.15" text-anchor="start" textLength="17.00" lengthAdjust="spacingAndGlyphs" >Sep</text>
<text x="202.50" y="309.80" font-size="9.5" font-weight="normal" fill="#000" stroke="#000" stroke-width="0.15" text-anchor="start" textLength="16.50" lengthAdjust="spacingAndGlyphs" >Oct</text>
<text x="235.75" y="309.80" font-size="9.5" font-weight="normal" fill="#000" stroke="#000" stroke-width="0.15" text-anchor="start" textLength="17.25" lengthAdjust="spacingAndGlyphs" >Nov</text>
<text x="265.50" y="309.80" font-size="9.5" font-weight="normal" fill="#000" stroke="#000" stroke-width="0.15" text-anchor="start" textLength="17.50" lengthAdjust="spacingAndGlyphs" >Dec</text>
<text x="291.75" y="309.80" font-size="10.5" font-weight="bold" fill="#000" stroke="#000" stroke-width="0.15" text-anchor="start" textLength="23.25" lengthAdjust="spacingAndGlyphs" >2025</text>
<text x="325.75" y="309.80" font-size="9.5" font-weight="normal" fill="#000" stroke="#000" stroke-width="0.15" text-anchor="start" textLength="16.25" lengthAdjust="spacingAndGlyphs" >Feb</text>
<text x="353.75" y="309.80" font-size="9.5" font-weight="normal" fill="#000" stroke="#000" stroke-width="0.15" text-anchor="start" textLength="17.75" lengthAdjust="spacingAndGlyphs" >Mar</text>
<text x="385.75" y="309.80" font-size="9.5" font-weight="normal" fill="#000" stroke="#000" stroke-width="0.15" text-anchor="start" textLength="15.50" lengthAdjust="spacingAndGlyphs" >Apr</text>
<text x="413.75" y="309.80" font-size="9.5" font-weight="normal" fill="#000" stroke="#000" stroke-width="0.15" text-anchor="start" textLength="19.25" lengthAdjust="spacingAndGlyphs" >May</text>
<text x="446.38" y="309.80" font-size="9.5" font-weight="normal" fill="#000" stroke="#000" stroke-width="0.15" text-anchor="start" textLength="16.25" lengthAdjust="spacingAndGlyphs" >Jun</text>
<text x="477.75" y="309.80" font-size="9.5" font-weight="normal" fill="#000" stroke="#000" stroke-width="0.15" text-anchor="start" textLength="13.50" lengthAdjust="spacingAndGlyphs" >Jul</text>
<text x="507.75" y="309.80" font-size="9.5" font-weight="normal" fill="#000" stroke="#000" stroke-width="0.15" text-anchor="start" textLength="17.50" lengthAdjust="spacingAndGlyphs" >Aug</text>
<text x="539.00" y="309.80" font-size="9.5" font-weight="normal" fill="#000" stroke="#000" stroke-width="0.15" text-anchor="start" textLength="17.00" lengthAdjust="spacingAndGlyphs" >Sep</text>
<text x="570.25" y="309.80" font-size="9.5" font-weight="normal" fill="#000" stroke="#000" stroke-width="0.15" text-anchor="start" textLength="16.50" lengthAdjust="spacingAndGlyphs" >Oct</text>
<text x="602.50" y="309.80" font-size="9.5" font-weight="normal" fill="#000" stroke="#000" stroke-width="0.15" text-anchor="start" textLength="17.50" lengthAdjust="spacingAndGlyphs" >Nov</text>
<text x="630.50" y="309.80" font-size="9.5" font-weight="normal" fill="#000" stroke="#000" stroke-width="0.15" text-anchor="start" textLength="17.75" lengthAdjust="spacingAndGlyphs" >Dec</text>
<text x="660.00" y="309.80" font-size="10.5" font-weight="bold" fill="#000" stroke="#000" stroke-width="0.15" text-anchor="start" textLength="23.00" lengthAdjust="spacingAndGlyphs" >2026</text>
<text x="692.75" y="309.80" font-size="9.5" font-weight="normal" fill="#000" stroke="#000" stroke-width="0.15" text-anchor="start" textLength="16.75" lengthAdjust="spacingAndGlyphs" >Feb</text>
<text x="720.75" y="309.80" font-size="9.5" font-weight="normal" fill="#000" stroke="#000" stroke-width="0.15" text-anchor="start" textLength="17.50" lengthAdjust="spacingAndGlyphs" >Mar</text>
<text x="16.50" y="594.80" font-size="9.5" font-weight="normal" fill="#000" stroke="#000" stroke-width="0.15" text-anchor="start" textLength="15.50" lengthAdjust="spacingAndGlyphs" >Apr</text>
<text x="46.75" y="594.80" font-size="9.5" font-weight="normal" fill="#000" stroke="#000" stroke-width="0.15" text-anchor="start" textLength="19.50" lengthAdjust="spacingAndGlyphs" >May</text>
<text x="80.00" y="594.80" font-size="9.5" font-weight="normal" fill="#000" stroke="#000" stroke-width="0.15" text-anchor="start" textLength="16.25" lengthAdjust="spacingAndGlyphs" >Jun</text>
<text x="109.00" y="594.80" font-size="9.5" font-weight="normal" fill="#000" stroke="#000" stroke-width="0.15" text-anchor="start" textLength="13.50" lengthAdjust="spacingAndGlyphs" >Jul</text>
<text x="140.50" y="594.80" font-size="9.5" font-weight="normal" fill="#000" stroke="#000" stroke-width="0.15" text-anchor="start" textLength="17.50" lengthAdjust="spacingAndGlyphs" >Aug</text>
<text x="173.00" y="594.80" font-size="9.5" font-weight="normal" fill="#000" stroke="#000" stroke-width="0.15" text-anchor="start" textLength="17.00" lengthAdjust="spacingAndGlyphs" >Sep</text>
<text x="202.50" y="594.80" font-size="9.5" font-weight="normal" fill="#000" stroke="#000" stroke-width="0.15" text-anchor="start" textLength="16.50" lengthAdjust="spacingAndGlyphs" >Oct</text>
<text x="235.75" y="594.80" font-size="9.5" font-weight="normal" fill="#000" stroke="#000" stroke-width="0.15" text-anchor="start" textLength="17.25" lengthAdjust="spacingAndGlyphs" >Nov</text>
<text x="265.50" y="594.80" font-size="9.5" font-weight="normal" fill="#000" stroke="#000" stroke-width="0.15" text-anchor="start" textLength="17.50" lengthAdjust="spacingAndGlyphs" >Dec</text>
<text x="291.75" y="594.80" font-size="10.5" font-weight="bold" fill="#000" stroke="#000" stroke-width="0.15" text-anchor="start" textLength="23.25" lengthAdjust="spacingAndGlyphs" >2025</text>
<text x="325.75" y="594.80" font-size="9.5" font-weight="normal" fill="#000" stroke="#000" stroke-width="0.15" text-anchor="start" textLength="16.25" lengthAdjust="spacingAndGlyphs" >Feb</text>
<text x="353.75" y="594.80" font-size="9.5" font-weight="normal" fill="#000" stroke="#000" stroke-width="0.15" text-anchor="start" textLength="17.75" lengthAdjust="spacingAndGlyphs" >Mar</text>
<text x="385.75" y="594.80" font-size="9.5" font-weight="normal" fill="#000" stroke="#000" stroke-width="0.15" text-anchor="start" textLength="15.50" lengthAdjust="spacingAndGlyphs" >Apr</text>
<text x="413.75" y="594.80" font-size="9.5" font-weight="normal" fill="#000" stroke="#000" stroke-width="0.15" text-anchor="start" textLength="19.25" lengthAdjust="spacingAndGlyphs" >May</text>
<text x="446.38" y="594.80" font-size="9.5" font-weight="normal" fill="#000" stroke="#000" stroke-width="0.15" text-anchor="start" textLength="16.25" lengthAdjust="spacingAndGlyphs" >Jun</text>
<text x="477.75" y="594.80" font-size="9.5" font-weight="normal" fill="#000" stroke="#000" stroke-width="0.15" text-anchor="start" textLength="13.50" lengthAdjust="spacingAndGlyphs" >Jul</text>
<text x="507.75" y="594.80" font-size="9.5" font-weight="normal" fill="#000" stroke="#000" stroke-width="0.15" text-anchor="start" textLength="17.50" lengthAdjust="spacingAndGlyphs" >Aug</text>
<text x="539.00" y="594.80" font-size="9.5" font-weight="normal" fill="#000" stroke="#000" stroke-width="0.15" text-anchor="start" textLength="17.00" lengthAdjust="spacingAndGlyphs" >Sep</text>
<text x="570.25" y="594.80" font-size="9.5" font-weight="normal" fill="#000" stroke="#000" stroke-width="0.15" text-anchor="start" textLength="16.50" lengthAdjust="spacingAndGlyphs" >Oct</text>
<text x="602.50" y="594.80" font-size="9.5" font-weight="normal" fill="#000" stroke="#000" stroke-width="0.15" text-anchor="start" textLength="17.50" lengthAdjust="spacingAndGlyphs" >Nov</text>
<text x="630.50" y="594.80" font-size="9.5" font-weight="normal" fill="#000" stroke="#000" stroke-width="0.15" text-anchor="start" textLength="17.75" lengthAdjust="spacingAndGlyphs" >Dec</text>
<text x="660.00" y="594.80" font-size="10.5" font-weight="bold" fill="#000" stroke="#000" stroke-width="0.15" text-anchor="start" textLength="23.00" lengthAdjust="spacingAndGlyphs" >2026</text>
<text x="692.75" y="594.80" font-size="9.5" font-weight="normal" fill="#000" stroke="#000" stroke-width="0.15" text-anchor="start" textLength="16.75" lengthAdjust="spacingAndGlyphs" >Feb</text>
<text x="720.75" y="594.80" font-size="9.5" font-weight="normal" fill="#000" stroke="#000" stroke-width="0.15" text-anchor="start" textLength="17.50" lengthAdjust="spacingAndGlyphs" >Mar</text>
<text x="760.20" y="50.30" font-size="10" font-weight="normal" fill="#000" stroke="#000" stroke-width="0.15" text-anchor="start" textLength="19.30" lengthAdjust="spacingAndGlyphs" >1.30</text>
<text x="760.20" y="69.30" font-size="10" font-weight="normal" fill="#000" stroke="#000" stroke-width="0.15" text-anchor="start" textLength="19.30" lengthAdjust="spacingAndGlyphs" >1.25</text>
<text x="760.20" y="88.30" font-size="10" font-weight="normal" fill="#000" stroke="#000" stroke-width="0.15" text-anchor="start" textLength="19.30" lengthAdjust="spacingAndGlyphs" >1.20</text>
<text x="760.20" y="108.30" font-size="10" font-weight="normal" fill="#000" stroke="#000" stroke-width="0.15" text-anchor="start" textLength="19.30" lengthAdjust="spacingAndGlyphs" >1.15</text>
<text x="760.20" y="127.30" font-size="10" font-weight="normal" fill="#000" stroke="#000" stroke-width="0.15" text-anchor="start" textLength="19.30" lengthAdjust="spacingAndGlyphs" >1.10</text>
<text x="760.20" y="146.30" font-size="10" font-weight="normal" fill="#000" stroke="#000" stroke-width="0.15" text-anchor="start" textLength="19.30" lengthAdjust="spacingAndGlyphs" >1.05</text>
<text x="760.20" y="165.30" font-size="10" font-weight="normal" fill="#000" stroke="#000" stroke-width="0.15" text-anchor="start" textLength="19.30" lengthAdjust="spacingAndGlyphs" >1.00</text>
<text x="760.20" y="184.30" font-size="10" font-weight="normal" fill="#000" stroke="#000" stroke-width="0.15" text-anchor="start" textLength="19.30" lengthAdjust="spacingAndGlyphs" >0.95</text>
<text x="760.20" y="203.30" font-size="10" font-weight="normal" fill="#000" stroke="#000" stroke-width="0.15" text-anchor="start" textLength="19.30" lengthAdjust="spacingAndGlyphs" >0.90</text>
<text x="760.20" y="223.30" font-size="10" font-weight="normal" fill="#000" stroke="#000" stroke-width="0.15" text-anchor="start" textLength="19.30" lengthAdjust="spacingAndGlyphs" >0.85</text>
<text x="760.20" y="242.30" font-size="10" font-weight="normal" fill="#000" stroke="#000" stroke-width="0.15" text-anchor="start" textLength="19.30" lengthAdjust="spacingAndGlyphs" >0.80</text>
<text x="760.20" y="261.30" font-size="10" font-weight="normal" fill="#000" stroke="#000" stroke-width="0.15" text-anchor="start" textLength="19.30" lengthAdjust="spacingAndGlyphs" >0.75</text>
<text x="760.20" y="280.30" font-size="10" font-weight="normal" fill="#000" stroke="#000" stroke-width="0.15" text-anchor="start" textLength="19.30" lengthAdjust="spacingAndGlyphs" >0.70</text>
<text x="760.20" y="298.30" font-size="10" font-weight="normal" fill="#000" stroke="#000" stroke-width="0.15" text-anchor="start" textLength="19.30" lengthAdjust="spacingAndGlyphs" >0.65</text>
<text x="760.30" y="324.30" font-size="10" font-weight="normal" fill="#000" stroke="#000" stroke-width="0.15" text-anchor="start" textLength="22.60" lengthAdjust="spacingAndGlyphs" >7000</text>
<text x="760.30" y="347.30" font-size="10" font-weight="normal" fill="#000" stroke="#000" stroke-width="0.15" text-anchor="start" textLength="22.60" lengthAdjust="spacingAndGlyphs" >6800</text>
<text x="760.30" y="395.30" font-size="10" font-weight="normal" fill="#000" stroke="#000" stroke-width="0.15" text-anchor="start" textLength="22.60" lengthAdjust="spacingAndGlyphs" >6400</text>
<text x="760.30" y="419.30" font-size="10" font-weight="normal" fill="#000" stroke="#000" stroke-width="0.15" text-anchor="start" textLength="22.60" lengthAdjust="spacingAndGlyphs" >6200</text>
<text x="760.30" y="442.30" font-size="10" font-weight="normal" fill="#000" stroke="#000" stroke-width="0.15" text-anchor="start" textLength="22.60" lengthAdjust="spacingAndGlyphs" >6000</text>
<text x="760.30" y="466.30" font-size="10" font-weight="normal" fill="#000" stroke="#000" stroke-width="0.15" text-anchor="start" textLength="22.60" lengthAdjust="spacingAndGlyphs" >5800</text>
<text x="760.30" y="490.30" font-size="10" font-weight="normal" fill="#000" stroke="#000" stroke-width="0.15" text-anchor="start" textLength="22.60" lengthAdjust="spacingAndGlyphs" >5600</text>
<text x="760.30" y="514.30" font-size="10" font-weight="normal" fill="#000" stroke="#000" stroke-width="0.15" text-anchor="start" textLength="22.60" lengthAdjust="spacingAndGlyphs" >5400</text>
<text x="760.30" y="537.30" font-size="10" font-weight="normal" fill="#000" stroke="#000" stroke-width="0.15" text-anchor="start" textLength="22.60" lengthAdjust="spacingAndGlyphs" >5200</text>
<text x="760.30" y="561.30" font-size="10" font-weight="normal" fill="#000" stroke="#000" stroke-width="0.15" text-anchor="start" textLength="22.60" lengthAdjust="spacingAndGlyphs" >5000</text>
<text x="760.30" y="584.30" font-size="10" font-weight="normal" fill="#000" stroke="#000" stroke-width="0.15" text-anchor="start" textLength="22.60" lengthAdjust="spacingAndGlyphs" >4800</text>
<path d="M754.2 147.40L758 142.40H781.6V152.40H758Z" fill="#fff" stroke="#000" stroke-width="1.1"/>
<text x="759.70" y="150.70" font-size="10" font-weight="normal" fill="#000" stroke="#000" stroke-width="0.15" text-anchor="start" textLength="20.00" lengthAdjust="spacingAndGlyphs" >1.04</text>
<path d="M754.2 157.50L758 152.60H781.6V163.00H758Z" fill="#fff" stroke="#000" stroke-width="1.1"/>
<text x="758.80" y="161.50" font-size="10" font-weight="bold" fill="#000" stroke="#000" stroke-width="0.15" text-anchor="start" textLength="19.80" lengthAdjust="spacingAndGlyphs" >1.01</text>
<path d="M754.2 369.90L758 364.30H801V375.50H758Z" fill="#fff" stroke="#000" stroke-width="1.1"/>
<text x="759.10" y="373.80" font-size="10" font-weight="bold" fill="#000" stroke="#000" stroke-width="0.15" text-anchor="start" textLength="37.90" lengthAdjust="spacingAndGlyphs" >6581.00</text>
<text x="16.20" y="13.80" font-size="13" font-weight="bold" fill="#000" stroke="#000" stroke-width="0.15" text-anchor="start" textLength="74.80" lengthAdjust="spacingAndGlyphs" >!PCRATCBO</text>
<text x="95.80" y="13.10" font-size="11" font-weight="normal" fill="#000" stroke="#000" stroke-width="0.15" text-anchor="start" textLength="91.70" lengthAdjust="spacingAndGlyphs" >CBOE Put/Call Ratio</text>
<text x="193.80" y="13.10" font-size="9" font-weight="normal" fill="#000" stroke="#000" stroke-width="0.15" text-anchor="start" textLength="22.60" lengthAdjust="spacingAndGlyphs" >INDX</text>
<text x="16.20" y="25.60" font-size="10" font-weight="normal" fill="#000" stroke="#000" stroke-width="0.15" text-anchor="start" textLength="59.00" lengthAdjust="spacingAndGlyphs" >23-Mar-2026</text>
<text x="667.30" y="13.20" font-size="10" font-weight="normal" fill="#555" stroke="#555" stroke-width="0.15" text-anchor="start" textLength="88.20" lengthAdjust="spacingAndGlyphs" >©StockCharts.com</text>
<text x="419.70" y="25.40" font-size="11" font-weight="bold" fill="#000" stroke="#000" stroke-width="0.15" text-anchor="start" textLength="28.60" lengthAdjust="spacingAndGlyphs" >Open</text>
<text x="452.75" y="25.40" font-size="10.5" font-weight="normal" fill="#000" stroke="#000" stroke-width="0.15" text-anchor="start" textLength="19.20" lengthAdjust="spacingAndGlyphs" >1.01</text>
<text x="478.60" y="25.40" font-size="11" font-weight="bold" fill="#000" stroke="#000" stroke-width="0.15" text-anchor="start" textLength="23.70" lengthAdjust="spacingAndGlyphs" >High</text>
<text x="506.80" y="25.40" font-size="10.5" font-weight="normal" fill="#000" stroke="#000" stroke-width="0.15" text-anchor="start" textLength="19.40" lengthAdjust="spacingAndGlyphs" >1.01</text>
<text x="532.60" y="25.40" font-size="11" font-weight="bold" fill="#000" stroke="#000" stroke-width="0.15" text-anchor="start" textLength="23.20" lengthAdjust="spacingAndGlyphs" >Low</text>
<text x="560.30" y="25.40" font-size="10.5" font-weight="normal" fill="#000" stroke="#000" stroke-width="0.15" text-anchor="start" textLength="19.60" lengthAdjust="spacingAndGlyphs" >1.01</text>
<text x="586.75" y="25.40" font-size="11" font-weight="bold" fill="#000" stroke="#000" stroke-width="0.15" text-anchor="start" textLength="31.50" lengthAdjust="spacingAndGlyphs" >Close</text>
<text x="622.75" y="25.40" font-size="10.5" font-weight="normal" fill="#000" stroke="#000" stroke-width="0.15" text-anchor="start" textLength="19.20" lengthAdjust="spacingAndGlyphs" >1.01</text>
<text x="648.60" y="25.40" font-size="11" font-weight="bold" fill="#000" stroke="#000" stroke-width="0.15" text-anchor="start" textLength="21.40" lengthAdjust="spacingAndGlyphs" >Chg</text>
<text x="674.50" y="25.40" font-size="10.5" font-weight="normal" fill="#000" stroke="#000" stroke-width="0.15" text-anchor="start" textLength="71.50" lengthAdjust="spacingAndGlyphs" >+0.00 (+0.00%)</text>
<rect x="748.8" y="21.6" width="6.8" height="2" fill="#000"/>
<rect x="17" y="29" width="151" height="12" fill="#fff"/><rect x="17" y="41" width="65" height="11" fill="#fff"/>
<rect x="19" y="34" width="8.5" height="2" fill="#000"/>
<text x="33.00" y="38.40" font-size="9.5" font-weight="normal" fill="#000" stroke="#000" stroke-width="0.15" text-anchor="start" textLength="131.60" lengthAdjust="spacing" >!PCRATCBO (Daily) 1.01</text>
<rect x="19" y="45" width="8.5" height="2" fill="#000"/>
<text x="29.40" y="49.60" font-size="9.5" font-weight="normal" fill="#000" stroke="#000" stroke-width="0.15" text-anchor="start" textLength="49.60" lengthAdjust="spacingAndGlyphs" >MA(5) 1.04</text>
<rect x="18" y="315" width="93" height="11" fill="#fff"/>
<text x="31.50" y="323.80" font-size="9.5" font-weight="normal" fill="#000" stroke="#000" stroke-width="0.15" text-anchor="start" textLength="76.80" lengthAdjust="spacing" >$SPX 6581.00</text>
<path d="M20.6 316.6V323.2M18.8 318.8L20.6 316.6L22.4 318.8M25.8 317.6V324.8M24 322.6L25.8 324.8L27.6 322.6" stroke="#000" stroke-width="1.1" fill="none"/>
</g>
</svg>
</body></html>
